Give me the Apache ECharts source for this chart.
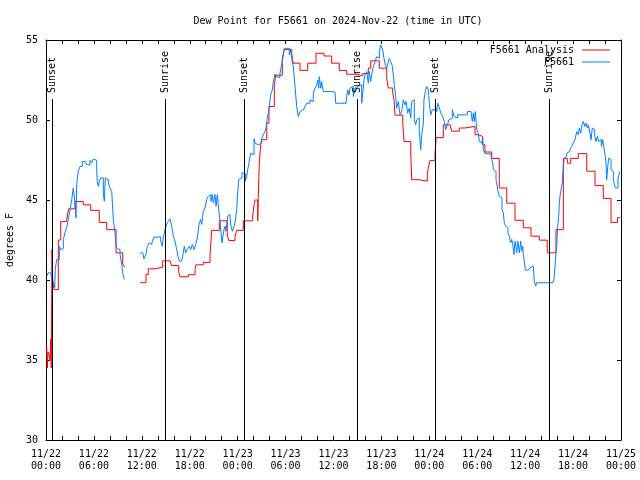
<!DOCTYPE html>
<html>
<head>
<meta charset="utf-8">
<script src="https://cdn.jsdelivr.net/npm/echarts@6/dist/echarts.min.js"></script>
<style>html,body{margin:0;padding:0;background:#fff}#c{width:640px;height:480px}</style>
</head>
<body>
<div id="c"></div>
<script>
// Hours since 2024-11-22 00:00 UTC, dew point (F)
const analysisSeries = [
[0.09,35.9],[0.16,34.5],[0.25,35.5],[0.38,35.3],[0.50,35.0],[0.59,36.3],[0.66,34.5],[0.75,41.9],[0.84,40.0],[1.00,39.4],
[1.54,42.5],[1.84,43.65],[2.59,43.8],[2.84,44.45],[3.63,44.9],[4.67,44.7],[5.60,44.35],[6.67,43.6],[7.60,43.15],[8.77,41.7],
[9.60,41.0],[9.85,40.8],[9.90,null],
[11.77,39.83],[12.52,40.35],[12.81,40.7],[13.65,40.8],[14.61,41.2],[15.53,41.1],[15.74,40.9],[16.62,40.5],[16.78,40.2],[17.82,40.33],
[18.66,40.66],[18.78,40.95],[19.70,41.1],[20.54,41.6],[20.75,43.1],[21.70,43.7],[22.70,42.8],[22.88,42.47],[23.67,42.7],[23.88,43.1],
[24.71,43.7],[25.88,44.0],[26.05,44.7],[26.17,45.0],[26.51,43.7],[26.58,45.1],[26.71,47.3],[26.88,48.45],[27.01,48.77],[27.64,49.8],
[27.92,50.84],[28.59,52.2],[28.76,52.8],[29.59,53.86],[29.84,54.4],[30.77,54.1],[30.97,53.55],[31.81,53.1],[32.77,53.55],[33.81,54.17],
[34.81,54.0],[35.77,53.55],[36.73,53.1],[37.65,52.86],[38.69,52.77],[39.66,52.9],[40.36,53.24],[40.66,53.7],[41.74,53.24],[42.66,52.6],
[42.86,52.0],[43.41,51.7],[43.58,51.26],[43.70,50.3],[44.67,49.8],[44.83,48.66],[45.67,48.0],[45.79,46.27],[46.74,46.17],[47.75,46.6],
[47.87,47.0],[48.08,47.46],[48.71,47.8],[48.84,48.9],[49.75,49.7],[50.59,49.6],[50.80,49.3],[51.75,49.5],[52.46,49.6],[53.72,49.08],
[54.13,48.97],[54.68,48.45],[54.97,48.0],[55.81,47.6],[56.76,45.75],[57.69,44.8],[58.73,43.73],[59.77,43.26],[60.73,42.74],[61.77,42.49],
[62.77,41.7],[63.86,43.15],[64.78,47.6],[65.28,47.3],[65.70,47.6],[66.65,47.9],[67.71,46.8],[68.75,45.9],[69.78,45.1],[70.75,43.6],
[71.56,43.9],[71.88,43.9]
];

const stationSeries = [
[0.09,40.24],[0.29,40.45],[0.59,40.4],[0.75,40.04],[0.91,39.83],[1.09,39.52],[1.16,40.66],[1.34,41.28],[1.54,41.28],[1.67,42.11],
[1.84,41.9],[2.04,41.97],[2.17,42.53],[2.38,42.95],[2.59,43.26],[2.79,43.78],[3.01,44.4],[3.22,45.02],[3.42,45.75],[3.54,45.65],
[3.63,44.82],[3.76,43.88],[3.84,45.96],[4.04,46.79],[4.26,47.1],[4.55,47.41],[4.88,47.35],[5.10,47.2],[5.51,47.48],[5.72,47.31],
[5.92,47.56],[6.14,47.48],[6.35,46.79],[6.42,46.17],[6.55,45.85],[6.67,46.17],[6.85,46.38],[7.05,46.38],[7.18,45.44],[7.30,44.92],
[7.43,46.38],[7.60,46.27],[7.80,46.07],[8.01,45.75],[8.23,45.54],[8.43,43.78],[8.64,42.95],[8.77,42.11],[8.93,41.97],[9.05,41.9],
[9.27,41.6],[9.48,40.97],[9.60,40.45],[9.80,40.04],[9.83,null],
[11.77,41.7],[12.11,41.68],[12.27,41.33],[12.52,41.6],[12.69,42.11],[12.94,42.32],[13.11,42.22],[13.27,42.36],[13.52,42.68],[14.06,42.7],
[14.36,42.43],[14.56,42.11],[14.69,42.63],[14.90,43.15],[15.11,43.47],[15.31,43.67],[15.53,43.82],[15.74,43.36],[15.94,42.74],[16.15,42.43],
[16.37,41.9],[16.53,41.49],[16.69,41.18],[16.99,41.14],[17.19,41.7],[17.32,42.11],[17.49,41.7],[17.69,41.9],[17.94,42.11],[18.12,41.9],
[18.32,42.22],[18.53,41.9],[18.75,42.22],[18.95,42.63],[19.16,43.47],[19.37,43.78],[19.50,43.47],[19.70,44.3],[19.91,44.5],[20.12,45.02],
[20.32,45.23],[20.54,45.34],[20.66,44.92],[20.82,45.34],[20.95,44.82],[21.16,45.34],[21.29,44.61],[21.45,45.34],[21.63,44.4],[21.79,43.67],
[21.91,42.95],[22.04,42.32],[22.16,42.74],[22.29,43.15],[22.41,43.36],[22.54,43.05],[22.75,43.98],[22.88,44.09],[23.04,43.88],[23.17,43.36],
[23.33,43.05],[23.54,43.36],[23.70,43.67],[23.88,44.4],[24.00,45.44],[24.13,46.27],[24.38,46.38],[24.54,46.69],[24.79,46.65],[24.96,46.17],
[25.13,46.48],[25.26,46.9],[25.42,47.31],[25.55,47.72],[25.67,47.93],[25.83,47.83],[26.05,48.83],[26.17,48.56],[26.38,48.45],[26.58,48.35],
[26.80,48.56],[27.01,48.87],[27.21,49.08],[27.42,49.28],[27.55,49.5],[27.71,50.12],[27.92,50.64],[28.05,51.26],[28.17,51.68],[28.34,51.88],
[28.46,52.4],[28.68,52.86],[28.89,52.71],[29.09,52.65],[29.30,52.92],[29.51,53.44],[29.71,54.06],[29.84,54.48],[30.14,54.52],[30.34,54.48],
[30.47,54.06],[30.64,54.38],[30.77,53.86],[30.97,53.34],[31.09,52.61],[31.27,51.57],[31.39,50.84],[31.59,50.22],[31.81,50.53],[32.02,50.64],
[32.22,50.74],[32.43,50.84],[32.65,51.05],[33.06,51.26],[33.27,51.16],[33.47,51.68],[33.68,51.99],[33.90,52.2],[34.02,52.5],[34.15,51.99],
[34.22,52.71],[34.40,51.99],[34.52,52.4],[34.72,51.78],[35.56,51.75],[36.19,51.75],[36.28,51.05],[37.57,51.05],[37.65,51.47],[37.78,51.88],
[37.94,51.57],[38.07,51.99],[38.28,52.1],[38.48,51.47],[38.69,51.99],[38.91,52.1],[39.11,51.99],[39.32,52.2],[39.53,51.05],[39.66,51.68],
[39.82,52.5],[39.95,52.82],[40.16,53.03],[40.36,52.3],[40.48,53.03],[40.66,52.4],[40.78,52.82],[40.99,53.34],[41.20,53.65],[41.41,53.96],
[41.61,53.86],[41.74,54.27],[41.91,54.69],[42.04,54.79],[42.16,54.38],[42.32,53.86],[42.49,53.44],[42.66,53.24],[42.83,53.55],[42.99,53.86],
[43.16,53.65],[43.33,53.44],[43.49,52.82],[43.61,52.2],[43.79,51.47],[43.91,50.74],[44.12,51.16],[44.33,50.32],[44.54,50.53],[44.74,51.26],
[44.95,50.95],[45.08,51.16],[45.29,50.43],[45.49,50.74],[45.67,50.12],[45.79,51.16],[45.99,51.26],[46.12,50.01],[46.29,49.7],[46.42,50.01],
[46.62,50.12],[46.74,49.39],[46.92,48.14],[47.05,49.08],[47.25,49.8],[47.33,51.26],[47.50,51.78],[47.67,52.09],[47.87,51.88],[48.00,51.05],
[48.17,50.32],[48.37,50.64],[48.59,50.64],[48.75,50.95],[48.92,50.53],[49.05,51.05],[49.21,50.84],[49.43,50.43],[49.67,50.22],[49.88,49.91],
[50.05,49.39],[50.25,49.7],[50.46,50.01],[50.68,50.12],[50.88,50.64],[51.09,50.22],[51.34,50.12],[51.55,50.32],[51.97,50.32],[52.47,50.32],
[52.76,50.53],[53.22,50.53],[53.38,49.91],[53.51,50.43],[53.63,49.91],[53.76,50.53],[53.93,49.39],[54.13,49.18],[54.26,48.66],[54.43,48.56],
[54.56,48.66],[54.68,48.87],[54.76,48.14],[54.97,47.89],[55.69,47.89],[55.81,47.52],[55.94,47.31],[56.01,46.9],[56.22,46.79],[56.35,46.27],
[56.51,45.82],[56.64,45.44],[56.76,45.23],[56.94,45.13],[57.10,44.4],[57.26,44.2],[57.39,43.57],[57.56,43.36],[57.69,43.26],[57.85,42.95],
[58.02,42.74],[58.19,42.32],[58.32,42.53],[58.44,42.22],[58.60,41.6],[58.73,42.43],[58.94,41.7],[59.07,42.43],[59.27,41.7],[59.44,42.43],
[59.57,41.8],[59.69,42.11],[59.77,41.6],[59.89,41.18],[60.02,40.62],[60.39,40.62],[60.61,40.77],[60.82,40.87],[61.02,40.77],[61.15,39.93],
[61.32,39.62],[61.45,39.83],[63.45,39.83],[63.61,40.04],[63.74,40.87],[63.86,41.7],[63.95,42.11],[64.07,43.36],[64.20,43.98],[64.28,44.82],
[64.36,45.23],[64.49,45.65],[64.65,46.07],[64.78,47.1],[64.90,47.62],[65.03,47.72],[65.20,47.93],[65.40,48.04],[65.62,48.19],[65.83,48.35],
[66.03,48.56],[66.24,48.77],[66.46,49.28],[66.66,49.08],[66.78,49.5],[66.96,49.18],[67.12,49.7],[67.28,49.91],[67.46,49.6],[67.62,49.8],
[67.78,49.5],[67.91,49.7],[68.12,49.18],[68.25,48.77],[68.41,49.5],[68.53,49.39],[68.71,48.97],[68.87,48.66],[69.03,48.97],[69.21,48.66],
[69.37,48.77],[69.54,48.35],[69.71,48.77],[69.87,48.25],[70.04,47.72],[70.12,47.31],[70.21,46.27],[70.34,47.1],[70.46,47.62],[70.63,47.52],
[70.75,46.9],[70.88,46.79],[71.04,46.27],[71.17,45.96],[71.29,45.75],[71.46,45.75],[71.63,46.38],[71.75,46.48],[71.88,46.79]
];

const sunHours = [0.79, 14.94, 24.79, 38.98, 48.75, 63.02];
const sunLabels = ['Sunset', 'Sunrise', 'Sunset', 'Sunrise', 'Sunset', 'Sunrise'];
const seriesNames = ['F5661 Analysis', 'F5661'];
const titleText = 'Dew Point for F5661 on 2024-Nov-22 (time in UTC)';
const yAxisTitle = 'degrees F';
const xRange = [0, 72, 6];
const yRange = [30, 55, 5];

const FONT = '"DejaVu Sans Mono", "Liberation Mono", monospace';
const toData = arr => arr.map(p => [p[0], p[1] === null ? '-' : p[1]]);
function xLabel(v) {
  const day = 22 + Math.floor(v / 24);
  const hr = Math.round(v % 24);
  return '11/' + day + '\n' + (hr < 10 ? '0' : '') + hr + ':00';
}
const baseX = {
  type: 'value', min: xRange[0], max: xRange[1], interval: xRange[2],
  axisLine: { show: true, onZero: false, lineStyle: { color: '#000', width: 1 } },
  axisTick: { show: true, inside: true, length: 4, lineStyle: { color: '#000' } },
  minorTick: { show: true, splitNumber: 3, length: 4, lineStyle: { color: '#000' } },
  splitLine: { show: false }
};
const baseY = {
  type: 'value', min: yRange[0], max: yRange[1], interval: yRange[2],
  axisLine: { show: true, onZero: false, lineStyle: { color: '#000', width: 1 } },
  axisTick: { show: true, inside: true, length: 4, lineStyle: { color: '#000' } },
  splitLine: { show: false }
};
const legendBase = {
  right: 30, padding: 0, align: 'right', icon: 'rect', itemWidth: 28, itemHeight: 1,
  textStyle: { fontFamily: FONT, fontSize: 10, color: '#000', lineHeight: 12, padding: [0, 3, 0, 0] }
};

const chart = echarts.init(document.getElementById('c'), null, { renderer: 'canvas' });
chart.setOption({
  animation: false,
  backgroundColor: '#fff',
  title: {
    text: titleText, left: 333, top: 11, textAlign: 'center',
    textStyle: { fontFamily: FONT, fontSize: 10, fontWeight: 'normal', color: '#000' }
  },
  legend: [
    Object.assign({}, legendBase, { data: [seriesNames[0]], top: 44 }),
    Object.assign({}, legendBase, { data: [seriesNames[1]], top: 56 })
  ],
  grid: { left: 46, right: 19, top: 40, bottom: 40, containLabel: false, outerBoundsMode: 'none' },
  xAxis: [
    Object.assign({}, baseX, { position: 'bottom',
      axisLabel: { formatter: xLabel, fontFamily: FONT, fontSize: 10, color: '#000', margin: 8, lineHeight: 12 } }),
    Object.assign({}, baseX, { position: 'top', axisLabel: { show: false } })
  ],
  yAxis: [
    Object.assign({}, baseY, { position: 'left',
      name: yAxisTitle, nameLocation: 'middle', nameRotate: 90, nameGap: 31,
      nameTextStyle: { fontFamily: FONT, fontSize: 10, color: '#000' },
      axisLabel: { fontFamily: FONT, fontSize: 10, color: '#000', margin: 8 } }),
    Object.assign({}, baseY, { position: 'right', axisLabel: { show: false } })
  ],
  series: [
    {
      name: seriesNames[0], type: 'line', step: 'end', symbol: 'none', showSymbol: false,
      xAxisIndex: 0, yAxisIndex: 0, connectNulls: false,
      color: '#ff0000', lineStyle: { color: '#ff0000', width: 1 },
      data: toData(analysisSeries), z: 3
    },
    {
      name: seriesNames[1], type: 'line', step: 'end', symbol: 'none', showSymbol: false,
      xAxisIndex: 0, yAxisIndex: 0, connectNulls: false,
      color: '#0080ff', lineStyle: { color: '#0080ff', width: 1 },
      data: toData(stationSeries), z: 4
    },
    {
      name: 'sun', type: 'custom', xAxisIndex: 0, yAxisIndex: 0, z: 5, silent: true,
      data: sunHours.map(h => [h, yRange[0]]),
      renderItem: function (params, api) {
        const h = api.value(0);
        const bottom = api.coord([h, yRange[0]]);
        const top = api.coord([h, 51.3]);
        const x = Math.round(top[0]) + 0.5;
        return {
          type: 'group',
          children: [
            { type: 'line', shape: { x1: x, y1: Math.round(top[1]), x2: x, y2: bottom[1] },
              style: { stroke: '#000', lineWidth: 1 } },
            { type: 'text', x: x, y: Math.round(top[1]) - 6, rotation: Math.PI / 2,
              style: { text: sunLabels[params.dataIndex], fill: '#000',
                font: '10px ' + FONT, align: 'left', verticalAlign: 'middle',
                textAlign: 'left', textVerticalAlign: 'middle' } }
          ]
        };
      }
    }
  ]
});
</script>
</body>
</html>
